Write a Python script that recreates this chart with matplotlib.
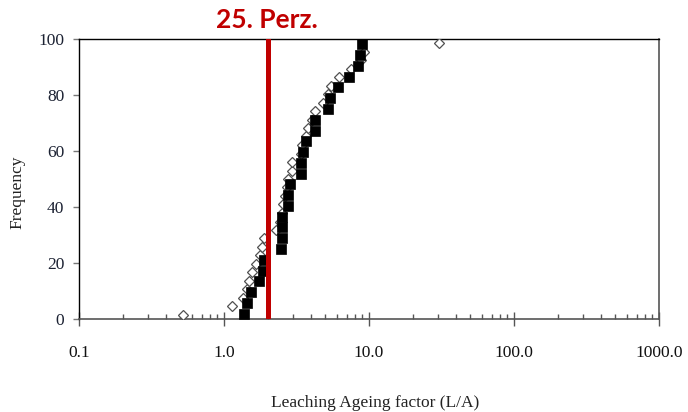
import matplotlib
matplotlib.use("Agg")
import matplotlib.pyplot as plt
from matplotlib.ticker import LogLocator, FixedLocator, FuncFormatter, NullFormatter

# open diamonds
DIAMOND_LA = [0.52, 1.13, 1.36, 1.43, 1.49, 1.57, 1.66, 1.76, 1.84, 1.90, 2.27,
              2.44, 2.50, 2.55, 2.62, 2.70, 2.76, 2.93, 2.95, 3.38, 3.45, 3.66,
              3.80, 4.05, 4.24, 4.85, 5.25, 5.50, 6.20, 7.50, 8.80, 9.25, 30.5]
DIAMOND_FREQ = [1.5, 4.5, 7.6, 10.6, 13.6, 16.7, 19.7, 22.7, 25.8, 28.8, 31.8,
                34.8, 37.9, 40.9, 43.9, 47.0, 50.0, 53.0, 56.1, 59.1, 62.1, 65.2,
                68.2, 71.2, 74.2, 77.3, 80.3, 83.3, 86.4, 89.4, 92.4, 95.5, 98.5]

# filled squares
SQUARE_LA = [1.38, 1.43, 1.53, 1.75, 1.85, 1.90, 2.46, 2.51, 2.51, 2.52, 2.76,
             2.77, 2.85, 3.39, 3.40, 3.52, 3.67, 4.24, 4.26, 5.24, 5.39, 6.08,
             7.30, 8.41, 8.66, 8.90]
SQUARE_FREQ = [1.9, 5.8, 9.6, 13.5, 17.3, 21.2, 25.0, 28.8, 32.7, 36.5, 40.4,
               44.2, 48.1, 51.9, 55.8, 59.6, 63.5, 67.3, 71.2, 75.0, 78.8, 82.7,
               86.5, 90.4, 94.2, 98.1]

PERCENTILE_25 = 2.0
X_TICKS = [0.1, 1, 10, 100, 1000]
Y_TICKS = [0, 20, 40, 60, 80, 100]

W, H = 688, 412
SERIF = "Liberation Serif"

fig = plt.figure(figsize=(W / 100, H / 100), dpi=100)
fig.patch.set_facecolor("white")
ax = fig.add_axes([79 / W, 1 - 319 / H, 580 / W, 280 / H])

ax.plot(DIAMOND_LA, DIAMOND_FREQ, ls="none", marker="D", ms=5.4,
        mfc="white", mec="#505050", mew=0.9, zorder=3)
ax.plot(SQUARE_LA, SQUARE_FREQ, ls="none", marker="s", ms=6.9,
        mfc="black", mec="black", mew=0.5, zorder=4)
ax.axvline(PERCENTILE_25, color="#c00000", lw=3.6, zorder=5)

ax.set_xscale("log")
ax.set_xlim(0.1, 1000)
ax.set_ylim(0, 100)
ax.xaxis.set_major_locator(FixedLocator(X_TICKS))
ax.xaxis.set_major_formatter(FuncFormatter(lambda v, p: "0.1" if v < 0.5 else f"{v:.1f}"))
ax.xaxis.set_minor_locator(LogLocator(base=10, subs=range(2, 10)))
ax.xaxis.set_minor_formatter(NullFormatter())
ax.set_yticks(Y_TICKS)

ax.tick_params(axis="x", which="major", direction="inout", length=10, width=1.0,
               color="#555555", pad=14, labelsize=12.5, labelcolor="#111111")
ax.tick_params(axis="x", which="minor", direction="in", length=3.8, width=1.0,
               color="#555555")
ax.tick_params(axis="y", direction="out", length=4.5, width=1.0, color="#777777",
               pad=6, labelsize=12.5, labelcolor="#1c2233")
for lab in ax.get_xticklabels() + ax.get_yticklabels():
    lab.set_fontfamily(SERIF)

for side in ("left", "top"):
    ax.spines[side].set_color("black")
    ax.spines[side].set_linewidth(1.0)
for side in ("bottom", "right"):
    ax.spines[side].set_color("#555555")
    ax.spines[side].set_linewidth(1.2)

fig.text(17 / W, 1 - 192 / H, "Frequency", rotation=90, ha="center", va="center",
         fontsize=12.5, family=SERIF, color="#222222")
fig.text(375 / W, 1 - 403 / H, "Leaching Ageing factor (L/A)", ha="center", va="center",
         fontsize=12.5, family=SERIF, color="#222222")
fig.text(267 / W, 1 - 19.5 / H, "25. Perz.", ha="center", va="center",
         fontsize=19, fontweight="bold", family="Lato", color="#c00000")

fig.savefig("out.png", dpi=100, facecolor="white")
